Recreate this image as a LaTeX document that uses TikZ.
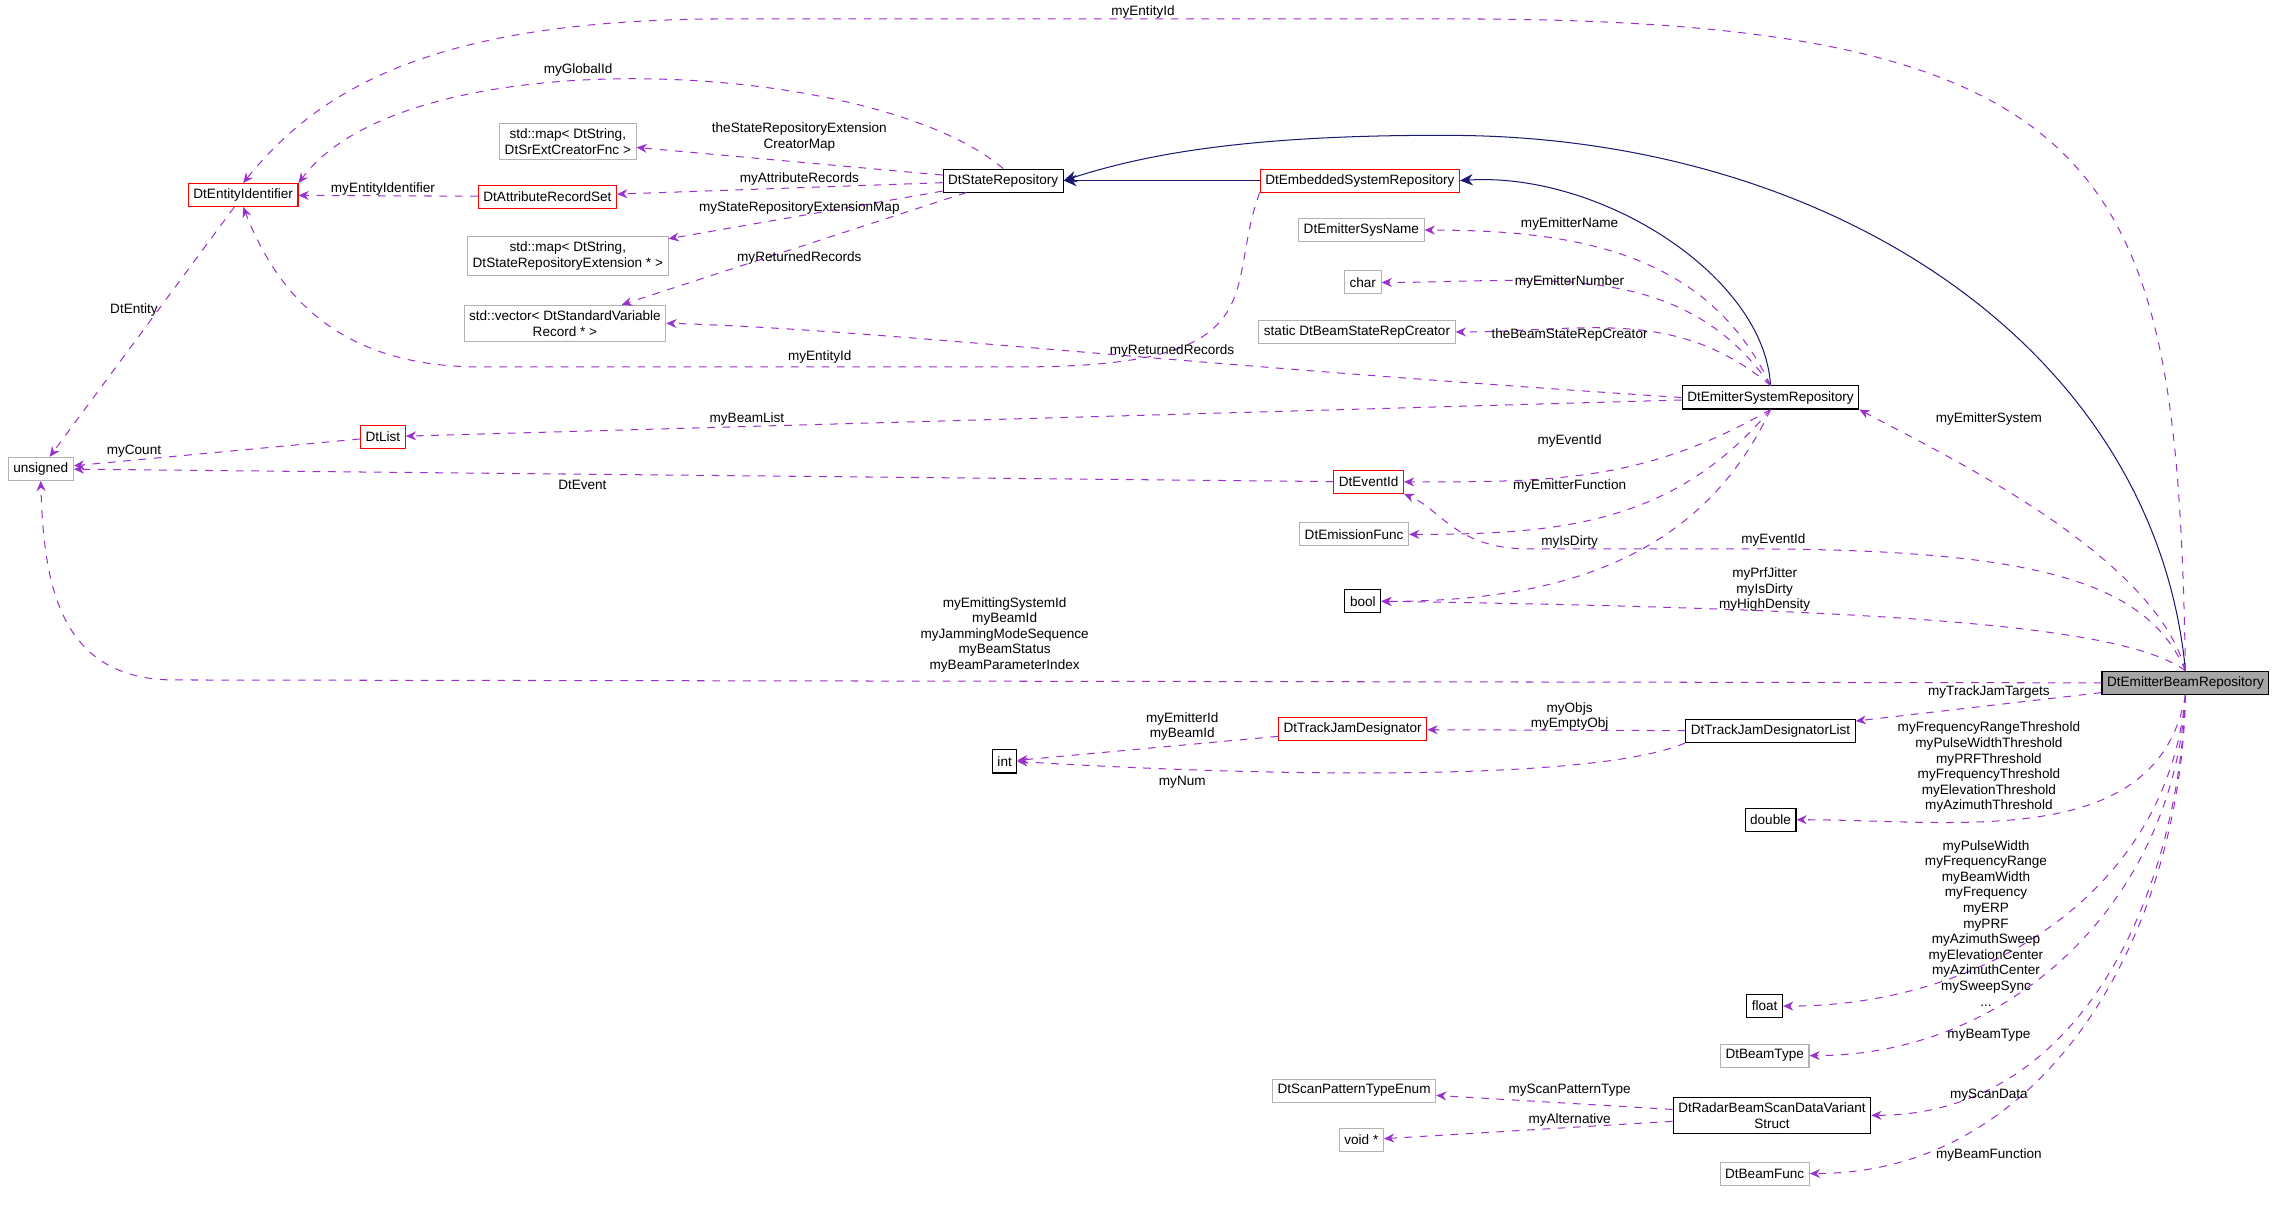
\documentclass[tikz,border=0pt]{standalone}
\usepackage{fontspec}
\setmainfont{Liberation Sans}
\usetikzlibrary{arrows.meta, positioning}
\definecolor{usecol}{RGB}{153,50,204}
\definecolor{inhcol}{RGB}{25,25,112}
\tikzset{cls/.style = {draw=black, fill=white, rectangle, inner sep=2pt, minimum height=9pt, font=\fontsize{5.3}{6.2}\selectfont, align=center}}
\tikzset{bad/.style = {cls, draw=red}}
\tikzset{ext/.style = {cls, draw=black!30}}
\tikzset{lbl/.style = {font=\fontsize{5.3}{6.1}\selectfont, align=center, inner sep=0.5pt}}
\tikzset{use/.style = {dashed, draw=usecol, thin, -{Stealth[length=4pt,width=3.5pt,fill=usecol]}}}
\tikzset{inh/.style = {draw=inhcol, thin, -{Stealth[length=5pt,width=4.5pt,fill=inhcol]}}}

\begin{document}
\begin{tikzpicture}[x=0.02cm, y=-0.02cm]
  \useasboundingbox (0,0) rectangle (1568,832);
  % Classes
  \node[cls, fill=black!35] (beam) at (1501,469) {DtEmitterBeamRepository};
  \node[bad] (entityid) at (167,134) {DtEntityIdentifier};
  \node[ext] (unsignedt) at (28,322) {unsigned};
  \node[bad] (dtlist) at (263,300) {DtList};
  \node[bad] (attrset) at (376,135) {DtAttributeRecordSet};
  \node[ext] (mapcreator) at (390,97) {std::map\textless{} DtString,\\ DtSrExtCreatorFnc \textgreater};
  \node[ext] (mapext) at (390,176) {std::map\textless{} DtString,\\ DtStateRepositoryExtension * \textgreater};
  \node[ext] (vecrec) at (388,222) {std::vector\textless{} DtStandardVariable\\ Record * \textgreater};
  \node[cls] (staterepo) at (689,124) {DtStateRepository};
  \node[bad] (embedded) at (934,124) {DtEmbeddedSystemRepository};
  \node[ext] (sysname) at (935,158) {DtEmitterSysName};
  \node[ext] (chart) at (936,194) {char};
  \node[ext] (beamcreator) at (932,228) {static DtBeamStateRepCreator};
  \node[cls] (emitsys) at (1216,273) {DtEmitterSystemRepository};
  \node[bad] (eventid) at (940,331) {DtEventId};
  \node[ext] (emissionfunc) at (930,367) {DtEmissionFunc};
  \node[cls] (boolt) at (936,413) {bool};
  \node[bad] (tjd) at (929,501) {DtTrackJamDesignator};
  \node[cls] (intt) at (690,523) {int};
  \node[cls] (tjdlist) at (1216,502) {DtTrackJamDesignatorList};
  \node[cls] (doublet) at (1216,563) {double};
  \node[cls] (floatt) at (1212,691) {float};
  \node[ext] (beamtype) at (1212,725) {DtBeamType};
  \node[ext] (scanenum) at (930,749) {DtScanPatternTypeEnum};
  \node[cls] (radarscan) at (1217,766) {DtRadarBeamScanDataVariant\\ Struct};
  \node[ext] (voidt) at (935,783) {void *};
  \node[ext] (beamfunc) at (1212,806) {DtBeamFunc};
  % Inheritance
  \draw[inh] (embedded) -- (staterepo);
  \draw[inh] (emitsys.north) .. controls (1212,190) and (1100,118) .. (embedded.east);
  \draw[inh] (beam.north) .. controls (1480,240) and (1260,95) .. (1000,93) .. controls (850,92) and (780,108) .. (staterepo.east);
  % Usage
  \draw[use] (beam.north) .. controls (1495,120) and (1460,13) .. (1000,13) -- (500,13) .. controls (300,13) and (220,60) .. (entityid.north);
  \draw[use] (staterepo.north) .. controls (600,40) and (280,25) .. (entityid.north east);
  \draw[use] (staterepo) -- (mapcreator);
  \draw[use] (staterepo) -- (attrset);
  \draw[use] (attrset) -- (entityid);
  \draw[use] (staterepo) -- (mapext);
  \draw[use] (staterepo) -- (vecrec);
  \draw[use] (embedded.south west) .. controls (840,200) and (880,252) .. (700,252) -- (330,252) .. controls (230,252) and (190,200) .. (entityid.south);
  \draw[use] (emitsys.west) .. controls (800,250) and (600,226) .. (vecrec.east);
  \draw[use] (entityid) -- (unsignedt);
  \draw[use] (dtlist) -- (unsignedt);
  \draw[use] (emitsys) -- (dtlist);
  \draw[use] (eventid) -- (unsignedt);
  \draw[use] (beam.west) -- (120,467) .. controls (40,467) and (30,400) .. (unsignedt.south);
  \draw[use] (emitsys.north) to[out=115,in=0] (sysname.east);
  \draw[use] (emitsys.north) to[out=125,in=0] (chart.east);
  \draw[use] (emitsys.north) to[out=140,in=0] (beamcreator.east);
  \draw[use] (emitsys.south) to[out=210,in=0] (eventid.east);
  \draw[use] (emitsys.south) to[out=230,in=0] (emissionfunc.east);
  \draw[use] (emitsys.south) to[out=245,in=0] (boolt.east);
  \draw[use] (beam.north) .. controls (1480,380) and (1330,310) .. (emitsys.south east);
  \draw[use] (beam.north) .. controls (1475,400) and (1400,377) .. (1200,377) -- (1050,377) .. controls (1000,377) and (990,350) .. (eventid.south east);
  \draw[use] (beam.north) .. controls (1460,430) and (1300,418) .. (boolt.east);
  \draw[use] (beam) -- (tjdlist);
  \draw[use] (tjdlist) -- (tjd);
  \draw[use] (tjd) -- (intt);
  \draw[use] (tjdlist.south west) .. controls (1100,535) and (900,535) .. (intt.east);
  \draw[use] (beam.south) to[out=-100,in=0] (doublet.east);
  \draw[use] (beam.south) to[out=-95,in=0] (floatt.east);
  \draw[use] (beam.south) to[out=-93,in=0] (beamtype.east);
  \draw[use] (beam.south) to[out=-92,in=0] (radarscan.east);
  \draw[use] (beam.south) to[out=-91,in=0] (beamfunc.east);
  \draw[use] (radarscan) -- (scanenum);
  \draw[use] (radarscan) -- (voidt);
  % Labels
  \node[lbl] (l1) at (785,8) {myEntityId};
  \node[lbl] (l2) at (397,48) {myGlobalId};
  \node[lbl] (l3) at (549,94) {theStateRepositoryExtension\\CreatorMap};
  \node[lbl] (l4) at (549,123) {myAttributeRecords};
  \node[lbl] (l5) at (263,130) {myEntityIdentifier};
  \node[lbl] (l6) at (549,143) {myStateRepositoryExtensionMap};
  \node[lbl] (l7) at (549,177) {myReturnedRecords};
  \node[lbl] (l8) at (805,241) {myReturnedRecords};
  \node[lbl] (l9) at (563,245) {myEntityId};
  \node[lbl] (l10) at (92,213) {DtEntity};
  \node[lbl] (l11) at (92,310) {myCount};
  \node[lbl] (l12) at (513,288) {myBeamList};
  \node[lbl] (l13) at (400,333) {DtEvent};
  \node[lbl] (l14) at (690,436) {myEmittingSystemId\\myBeamId\\myJammingModeSequence\\myBeamStatus\\myBeamParameterIndex};
  \node[lbl] (l15) at (1078,154) {myEmitterName};
  \node[lbl] (l16) at (1078,194) {myEmitterNumber};
  \node[lbl] (l17) at (1078,230) {theBeamStateRepCreator};
  \node[lbl] (l18) at (1078,303) {myEventId};
  \node[lbl] (l19) at (1078,334) {myEmitterFunction};
  \node[lbl] (l20) at (1078,372) {myIsDirty};
  \node[lbl] (l21) at (1366,288) {myEmitterSystem};
  \node[lbl] (l22) at (1218,371) {myEventId};
  \node[lbl] (l23) at (1212,405) {myPrfJitter\\myIsDirty\\myHighDensity};
  \node[lbl] (l24) at (1366,475) {myTrackJamTargets};
  \node[lbl] (l25) at (1078,492) {myObjs\\myEmptyObj};
  \node[lbl] (l26) at (812,499) {myEmitterId\\myBeamId};
  \node[lbl] (l27) at (812,537) {myNum};
  \node[lbl] (l28) at (1366,527) {myFrequencyRangeThreshold\\myPulseWidthThreshold\\myPRFThreshold\\myFrequencyThreshold\\myElevationThreshold\\myAzimuthThreshold};
  \node[lbl] (l29) at (1364,634) {myPulseWidth\\myFrequencyRange\\myBeamWidth\\myFrequency\\myERP\\myPRF\\myAzimuthSweep\\myElevationCenter\\myAzimuthCenter\\mySweepSync\\...};
  \node[lbl] (l30) at (1366,711) {myBeamType};
  \node[lbl] (l31) at (1366,752) {myScanData};
  \node[lbl] (l32) at (1078,749) {myScanPatternType};
  \node[lbl] (l33) at (1078,769) {myAlternative};
  \node[lbl] (l34) at (1366,793) {myBeamFunction};
\end{tikzpicture}
\end{document}
